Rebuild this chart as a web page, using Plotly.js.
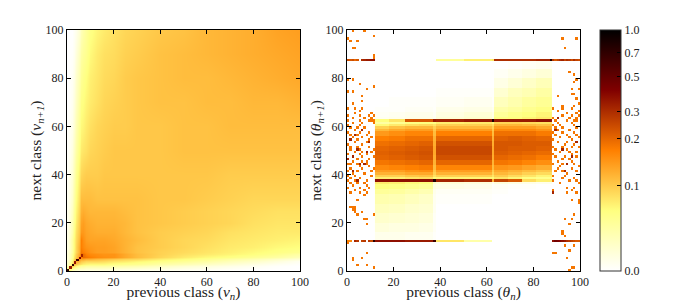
<!DOCTYPE html>
<html><head><meta charset="utf-8">
<script src="https://cdn.plot.ly/plotly-3.0.1.min.js"></script>
<style>html,body{margin:0;padding:0;background:#fff}#c{width:675px;height:302px}</style>
</head><body><div id="c"></div>
<script>
// All z values are colour-scale levels (0-100).
const colorStops = [[0,'#ffffff'],[0.25,'#ffff80'],[0.5,'#ff8000'],[0.75,'#800000'],[1,'#000000']];
const cbarTickLevels = [0,35.3,54.8,66.2,80.5,90.5,100];
const cbarTickLabels = ['0.0','0.1','0.2','0.3','0.5','0.7','1.0'];
const axisTicks = [0,20,40,60,80,100];

// LEFT PANEL: velocity transition map
const vX = [0.5,2,3,4,5,6,7,8,10,13,16,20,25,30,40,50,60,70,80,90,99.5];
const vY = [0.5,2,3,4,5,6,7,8,10,13,16,20,25,30,40,50,60,70,80,90,99.5];
const vLevels = [
[30,15,12,10,8,8,8,7,7,7,7,6,6,5,4,3,2,1,0,0,0],
[15,35,30,26,22,20,20,18,18,18,18,17,16,15,12,9,7,5,3,1,0],
[12,30,40,36,32,30,28,27,26,26,26,24,23,22,18,15,12,9,6,3,1],
[10,26,36,42,40,36,35,33,33,33,32,30,29,27,24,21,18,14,11,7,3],
[8,22,32,40,45,42,42,40,40,38,37,35,33,32,28,25,22,18,15,11,8],
[8,20,30,36,44,50,54,52,50,48,47,46,42,38,33,29,26,24,21,18,14],
[8,20,28,35,42,54,54,50,48,47,46,46,42,38,34,31,29,27,25,22,18],
[7,18,27,33,40,52,50,48,46,44,44,43,40,37,34,32,30,28,26,24,22],
[6,18,26,33,40,50,48,46,45,44,44,43,40,37,35,33,31,29,28,26,25],
[6,18,26,32,38,50,47,44,43,43,43,42,40,38,35,33,32,30,29,28,27],
[5,15,24,31,36,45,45,43,42,41,41,41,39,37,35,34,33,31,30,29,29],
[4,14,22,29,35,43,44,42,41,40,40,40,39,37,36,35,34,33,31,30,30],
[4,12,20,27,33,40,41,40,39,39,39,39,38,37,36,35,34,33,32,31,31],
[3,10,18,25,31,38,38,38,38,37,37,37,37,37,36,36,35,34,33,33,33],
[2,8,15,22,28,33,34,35,35,35,36,36,36,36,36,36,36,35,35,35,35],
[1,6,12,18,24,29,30,31,33,34,35,36,36,36,36,37,37,37,37,37,37],
[1,4,9,15,21,26,27,29,31,33,34,35,35,36,36,37,37,38,38,38,38],
[0,3,7,12,18,24,25,27,29,31,33,34,35,36,37,37,38,38,39,39,40],
[0,2,5,10,15,21,23,25,28,30,32,33,35,36,37,38,38,39,40,41,42],
[0,1,3,7,12,18,20,22,26,29,31,32,34,35,37,38,39,40,41,42,43],
[0,0,2,4,8,14,17,20,24,27,29,31,33,34,36,37,39,40,41,43,44]];
const vDiagClass = [0,1,2,3,4,5,6];
const vDiagLevel = [90,70,92,72,88,74,68];

// RIGHT PANEL: central band as bricks
const thetaXEdges = [12,18,25,31,37,38,50,62,63,69,75,81,88];
const thetaYEdges = [0,12,13,16,20,24,28,32,34,36,37,38,39,40,41,42,44,46,48,50,52,54,56,58,59,60,61,62,63,64,66,68,72,76,80,84,87,88,100];
const thetaLevels = [
[0,0,0,0,0,0,0,0,0,0,0,0],
[72,72,70,70,88,30,17,0,0,0,0,0],
[4,4,3,3,1,0,0,0,0,0,0,0],
[7,6,6,5,2,0,0,0,0,0,0,0],
[10,9,8,7,2,0,0,0,0,0,0,0],
[13,12,10,9,3,0,0,0,0,0,0,0],
[16,15,13,11,3,1,1,0,0,0,0,0],
[20,19,17,15,4,2,2,1,1,0,0,0],
[25,24,22,20,6,5,4,1,2,1,1,0],
[29,28,26,25,10,8,7,3,7,6,5,4],
[72,72,72,72,95,68,66,40,62,58,32,28],
[28,28,30,31,26,27,27,26,30,27,24,22],
[34,34,36,37,31,34,34,30,35,32,30,27],
[40,40,42,42,34,40,40,33,39,37,34,32],
[44,44,46,47,36,44,44,35,42,40,38,36],
[48,49,50,51,38,49,49,38,46,45,43,41],
[52,53,54,55,40,55,55,40,52,51,49,47],
[55,56,57,58,41,59,59,41,55,54,53,51],
[56,57,58,59,42,61,61,42,57,56,55,54],
[55,56,57,58,42,61,61,42,58,57,57,56],
[53,54,55,56,41,59,59,41,58,58,57,57],
[50,51,53,53,40,55,55,40,56,57,56,55],
[45,47,49,49,38,50,50,38,53,53,53,51],
[39,42,44,44,36,44,44,36,48,48,48,46],
[34,37,39,39,34,39,39,34,44,44,44,42],
[26,29,31,32,30,34,34,31,39,39,38,37],
[18,21,24,25,24,28,29,26,33,33,32,31],
[25,30,58,58,70,68,70,95,70,70,70,72],
[3,4,5,5,3,8,10,6,24,25,27,29],
[2,3,4,4,2,6,8,5,20,23,25,27],
[1,1,2,2,1,4,5,3,17,19,22,24],
[0,1,1,1,1,2,3,1,13,16,19,21],
[0,0,0,0,0,1,1,1,9,13,15,18],
[0,0,0,0,0,0,0,0,5,8,11,14],
[0,0,0,0,0,0,0,0,2,4,6,8],
[0,0,0,0,0,0,0,0,0,1,2,3],
[0,0,0,0,0,20,28,30,66,66,66,68],
[0,0,0,0,0,0,0,0,0,0,0,0]];

// Isolated cells in the outer columns (one visit each)
const stripY = [99,97,96,95,92,89,88,79,77,76,75,74,72,70,69,67,66,65,64,63,62,61,60,59,58,57,56,55,54,53,52,51,50,49,48,47,46,45,44,43,42,41,40,39,38,37,36,35,34,33,32,31,29,26,25,24,23,21,19,11,7,5,4,2,1];
const stripLeftX = [[2,7],[11],[0],[1,4],[2,3],[11],[11],[0,2],[5],[11],[8],[0,2],[6],[6],[2],[0,3,6],[5],[3,10],[0,5,9,11],[2,7,10],[0,5,9,10,11],[2,6,11],[0,5],[1,4,7],[3,6],[0,5,9],[1,4,8],[2,6,10],[4,9],[3,8],[0,6],[1,4,9],[1,5,11],[3,6,10],[0,5,8],[2,6,11],[0,4,9],[2,6,8],[0,1,4,8],[5,9],[1,6,11],[0,4,10],[2,7],[0,3,10],[1,5],[0,3,8],[1,4,7],[2,8],[0,5,9],[3,7],[1,5,8],[7],[4],[1,2,3],[2,3],[3,6],[4,11],[7,8],[8],[0],[8],[2,6],[2],[4,8],[11]];
const stripRightY = [96,92,82,81,79,78,75,73,72,71,69,68,67,66,65,64,63,62,61,60,59,58,57,56,55,54,53,52,51,50,49,48,47,46,45,44,43,42,41,40,39,38,37,36,34,33,32,29,28,23,21,19,16,15,14,10,8,7,5,1,0];
const stripRightX = [[92,98],[93],[95],[97],[98],[97],[96,99],[96,97],[90],[98],[99],[92,97],[88,92,96],[90,99],[94,98],[92,96,99],[88,95,98],[89,94,97,98],[90,96],[88,91,97],[89,92,98],[90,95],[88,92,97],[89,94,98],[91,95,99],[88,96],[90,94,98],[93,97],[88,92,96,99],[89,94],[91,95,98],[88,96],[89,93,98],[92,95],[90,96],[88,92,97],[91,99],[90,96],[89,92,98],[94],[88,93],[92,97],[88,95,98],[91,99],[94,97],[88,96],[88,94,98],[96,99],[99],[97],[93,96],[95],[92],[92],[93],[93,97],[95],[88,89],[94],[96,97],[95]];
const stripLevel = 52;
const darkCellX = [2,4,1,7,3,5,8,2,6,0,9,4,89,92,96,90,94,98,88,93];
const darkCellY = [47,50,54,44,56,44,49,41,58,46,53,37,58,50,47,63,44,53,32,41];
const darkLevel = 68;
const line87X = [0,1,2,3,4,6,7,8,9,10,11,88,89,90,91,92,93,94,95,96,97,98,99];
const line87Level = [60,58,60,55,58,66,68,70,70,72,72,64,58,62,66,68,62,66,64,60,66,62,60];
const line12X = [0,1,3,4,6,7,9,10,11,88,89,90,91,92,93,94,95,96,97,98,99];
const line12Level = [50,48,68,64,62,64,64,60,92,72,78,76,74,72,70,66,64,62,60,58,58];
const blackCellX = [87];
const blackCellY = [87];

function cellCentres(){ const a=[]; for(let i=0;i<100;i++) a.push(i+0.5); return a; }
function emptyGrid(){ const g=[]; for(let i=0;i<100;i++) g.push(new Array(100).fill(null)); return g; }

const vGrid = emptyGrid();
vDiagClass.forEach((c,i)=>{ vGrid[c][c]=vDiagLevel[i]; });

const thetaGrid = emptyGrid();
stripY.forEach((y,i)=>stripLeftX[i].forEach(x=>{ thetaGrid[y][x]=stripLevel; }));
stripRightY.forEach((y,i)=>stripRightX[i].forEach(x=>{ thetaGrid[y][x]=stripLevel; }));
darkCellX.forEach((x,i)=>{ thetaGrid[darkCellY[i]][x]=darkLevel; });
line87X.forEach((x,i)=>{ thetaGrid[87][x]=line87Level[i]; });
line12X.forEach((x,i)=>{ thetaGrid[12][x]=line12Level[i]; });
blackCellX.forEach((x,i)=>{ thetaGrid[blackCellY[i]][x]=94; });

const serif = '"Liberation Serif", serif';
const data = [
 {type:'heatmap',x:vX,y:vY,z:vLevels,zsmooth:'best',coloraxis:'coloraxis',xaxis:'x',yaxis:'y',hoverinfo:'skip'},
 {type:'heatmap',x:cellCentres(),y:cellCentres(),z:vGrid,coloraxis:'coloraxis',xaxis:'x',yaxis:'y',hoverinfo:'skip'},
 {type:'heatmap',x:thetaXEdges,y:thetaYEdges,z:thetaLevels,coloraxis:'coloraxis',xaxis:'x2',yaxis:'y2',hoverinfo:'skip'},
 {type:'heatmap',x:cellCentres(),y:cellCentres(),z:thetaGrid,coloraxis:'coloraxis',xaxis:'x2',yaxis:'y2',hoverinfo:'skip'}
];
function ax(extra){ return Object.assign({range:[0,100],tickmode:'array',tickvals:axisTicks,ticktext:axisTicks.map(String),
  ticks:'inside',ticklen:4,tickwidth:1,tickcolor:'#000',showline:true,linecolor:'#000',linewidth:1,mirror:'ticks',
  showgrid:false,zeroline:false,tickfont:{family:serif,size:12,color:'#222'},fixedrange:true,layer:'above traces'},extra); }
const titleFont = {family:serif,size:15.5,color:'#222'};
const layout = {
 width:675,height:302,margin:{l:67,r:95,t:30,b:31,pad:0},paper_bgcolor:'#fff',plot_bgcolor:'#fff',showlegend:false,
 font:{family:serif,color:'#222'},
 xaxis:ax({domain:[0,233/513],anchor:'y',title:{text:'previous class (<i>v<sub>n</sub></i>)',font:titleFont,standoff:0}}),
 yaxis:ax({domain:[0,1],anchor:'x',title:{text:'next class (<i>v<sub>n+1</sub></i>)',font:titleFont,standoff:0}}),
 xaxis2:ax({domain:[280/513,1],anchor:'y2',title:{text:'previous class (<i>θ<sub>n</sub></i>)',font:titleFont,standoff:0}}),
 yaxis2:ax({domain:[0,1],anchor:'x2',title:{text:'next class (<i>θ<sub>n+1</sub></i>)',font:titleFont,standoff:0}}),
 coloraxis:{cmin:0,cmax:100,colorscale:colorStops,colorbar:{
   x:533/513,xanchor:'left',xpad:0,y:0,yanchor:'bottom',ypad:0,len:1,lenmode:'fraction',thickness:21,thicknessmode:'pixels',
   outlinecolor:'#333',outlinewidth:1,tickmode:'array',tickvals:cbarTickLevels,ticktext:cbarTickLabels,ticks:'inside',ticklen:4,tickcolor:'#000',
   tickfont:{family:serif,size:12,color:'#222'}}}
};
Plotly.newPlot('c',data,layout,{displayModeBar:false,staticPlot:true});
</script></body></html>
